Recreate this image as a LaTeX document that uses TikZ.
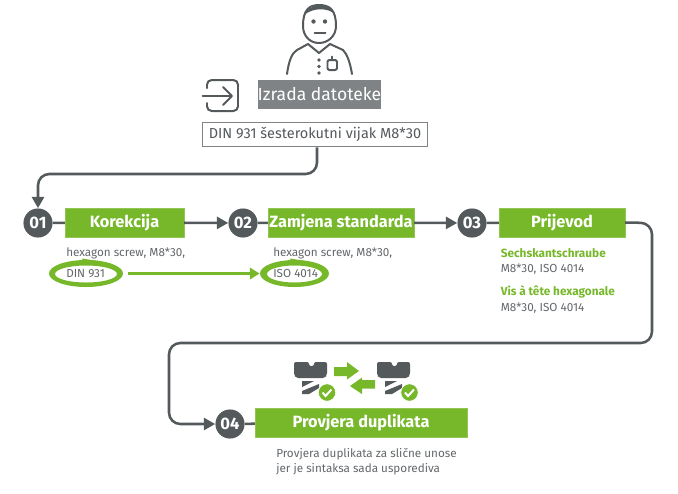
\documentclass[tikz,border=0pt]{standalone}
\usepackage{fontspec}
\setmainfont{Fira Sans}
\usetikzlibrary{positioning}
\usetikzlibrary{arrows.meta}
\usetikzlibrary{shapes.geometric}
\definecolor{boxc}{HTML}{76B82A}
\definecolor{linec}{HTML}{54595C}
\definecolor{titlec}{HTML}{808385}
\definecolor{textc}{HTML}{63676A}
\tikzset{
  stepbox/.style={fill=boxc,draw=boxc!80!white,line width=0.3pt,inner sep=0pt,minimum height=0.76cm,text=white,font=\fontsize{12.3}{14}\selectfont\bfseries},
  numc/.style={circle,fill=linec,inner sep=0pt,minimum size=0.77cm,text=white,font=\fontsize{12.5}{14}\selectfont\bfseries},
  flow/.style={draw=linec,line width=1.9pt,rounded corners=0.3cm},
  tip/.style={-{Triangle[length=3mm,width=3.2mm]}},
  note/.style={anchor=west,inner sep=0pt,text=textc,font=\fontsize{8.8}{11}\selectfont},
  greennote/.style={anchor=west,inner sep=0pt,text=boxc,font=\fontsize{8.9}{11}\selectfont\bfseries},
  ringspot/.style={ellipse,inner sep=0pt},
  icon/.style={draw=linec,line width=1.5pt,line cap=round,line join=round,fill=none},
}
\begin{document}
\begin{tikzpicture}[x=0.02646cm,y=-0.02646cm]
        \useasboundingbox (0,0) rectangle (678,493);

        % person
        \draw[icon] (303,26) .. controls (303,10) and (309,5) .. (319,5) .. controls (330,5) and (336,10) .. (336,26) .. controls (336,36) and (328,43) .. (319,43) .. controls (310,43) and (303,36) .. (303,26) -- cycle;
        \fill[linec] (304,15) .. controls (309,3) and (329,2) .. (335,14) .. controls (328,8) and (314,7) .. (304,15) -- cycle;
        \fill[linec] (313.5,21.5) circle (2.2) (325,21.5) circle (2.2);
        \draw[icon] (314.5,33) -- (325.5,33);
        \draw[icon] (287,74) .. controls (289,60) and (292,53) .. (297,50) -- (308,44) -- (319,53) -- (330,44) -- (343,50) .. controls (347,54) and (350,62) .. (352,74);
        \fill[linec] (319,60) circle (1.9) (319,66.5) circle (1.9) (319,73) circle (1.9);
        \draw[icon,rounded corners=1.5] (327.5,60) rectangle (337,70);
        \draw[icon] (332,56.5) -- (332,60);

        % login
        \draw[icon,rounded corners=3.5] (207,88) -- (207,80) -- (238,80) -- (238,111) -- (207,111) -- (207,103);
        \draw[icon] (202.5,96) -- (231,96);
        \draw[icon] (223,87) -- (232,96) -- (223,105);

        \node[fill=titlec,text=white,inner sep=0pt,minimum width=3.25cm,minimum height=0.77cm,font=\fontsize{13.2}{15}\selectfont] (title) at (319.5,94.5) {Izrada datoteke};
        \node[draw=titlec,line width=1.2pt,inner sep=0pt,minimum width=5.95cm,minimum height=0.64cm,text=linec,font=\fontsize{10.9}{12}\selectfont] (source) at (315,134.5) {DIN 931 šesterokutni vijak M8*30};

        % steps
        \node[numc] (num1) at (38,223) {01};
        \node[stepbox,minimum width=3.15cm] (step1) at (124.5,222.5) {Korekcija};
        \node[numc] (num2) at (243,223) {02};
        \node[stepbox,minimum width=3.86cm] (step2) at (341,222.5) {Zamjena standarda};
        \node[numc] (num3) at (472,223) {03};
        \node[stepbox,minimum width=3.33cm] (step3) at (562,222.5) {Prijevod};
        \node[numc] (num4) at (230,424) {04};
        \node[stepbox,minimum width=5.61cm] (step4) at (361,422.5) {Provjera duplikata};

        \coordinate (srcout) at (317,134.5);
        \draw[flow,tip] (srcout |- source.south) |- (38,174) -- (num1.north);
        \draw[flow] (num1) -- (step1);
        \draw[flow,tip] (step1) -- (num2);
        \draw[flow] (num2) -- (step2);
        \draw[flow,tip] (step2) -- (num3);
        \draw[flow] (num3) -- (step3);
        \draw[flow,tip] (step3.east) -- (652,223) -- (652,343) -- (169,343) -- (169,424) -- (num4.west);
        \draw[flow] (num4) -- (step4);

        % notes
        \node[note] (note1) at (66,253) {hexagon screw, M8*30,};
        \node[note] (din) at (66,273.5) {DIN 931};
        \node[note] (note2) at (273,253) {hexagon screw, M8*30,};
        \node[note] (iso) at (273,273.5) {ISO 4014};
        \fill[boxc,even odd rule] (86,273.5) ellipse (37 and 13.5) (86,274) ellipse (31 and 8.5);
        \fill[boxc,even odd rule] (294.5,273.5) ellipse (34.5 and 13.5) (294.5,274) ellipse (27.5 and 8.5);
        \fill[boxc] (82,258.5) -- (98,261) -- (84,264) -- cycle;
        \fill[boxc] (290,258.5) -- (306,261) -- (292,264) -- cycle;
        \node[ringspot,minimum width=1.96cm,minimum height=0.71cm] (ringa) at (86,273.5) {};
        \node[ringspot,minimum width=1.83cm,minimum height=0.71cm] (ringb) at (294.5,273.5) {};
        \coordinate[right=0.13cm of ringa.east] (ringout);
        \draw[draw=boxc,line width=1.9pt,-{Triangle[length=2.6mm,width=3mm]}] (ringout) -- (ringb.west);

        \node[greennote] (de) at (500.5,253) {Sechskantschraube};
        \node[note] (de2) at (500.5,269) {M8*30, ISO 4014};
        \node[greennote] (fr) at (500.5,292) {Vis à tête hexagonale};
        \node[note] (fr2) at (500.5,308) {M8*30, ISO 4014};

        \node[note] (check1) at (276,454) {Provjera duplikata za slične unose};
        \node[note] (check2) at (276,469) {jer je sintaksa sada usporediva};

        % screws
        \foreach \sx/\cx in {294/327,377/409.5}{
          \begin{scope}[shift={(\sx,0)}]
            \fill[linec,rounded corners=1.5] (2,378) -- (0,375) -- (0,362) -- (15,362) -- (15,366) -- (20,366) -- (20,362) -- (33,362) -- (33,375) -- (31,378) -- cycle;
            \fill[linec] (8,381) -- (20,381) -- (8,387) -- cycle;
            \fill[linec] (8,394) -- (8,391) -- (25,384) -- (25,388) -- (15,394) -- cycle;
          \end{scope}
          \fill[boxc,draw=white,line width=0.5pt] (\cx,392.5) circle (8.7);
          \draw[white,line width=1.5pt] (\cx-4.5,392.5) -- (\cx-1.5,396) -- (\cx+4.5,389.5);
        }
        \fill[boxc] (334,367) -- (347,367) -- (347,362) -- (359,371) -- (347,379.5) -- (347,376) -- (334,376) -- cycle;
        \fill[boxc] (375,380) -- (362,380) -- (362,377.5) -- (350,386) -- (362,394) -- (362,388.5) -- (375,388.5) -- cycle;
\end{tikzpicture}
\end{document}
